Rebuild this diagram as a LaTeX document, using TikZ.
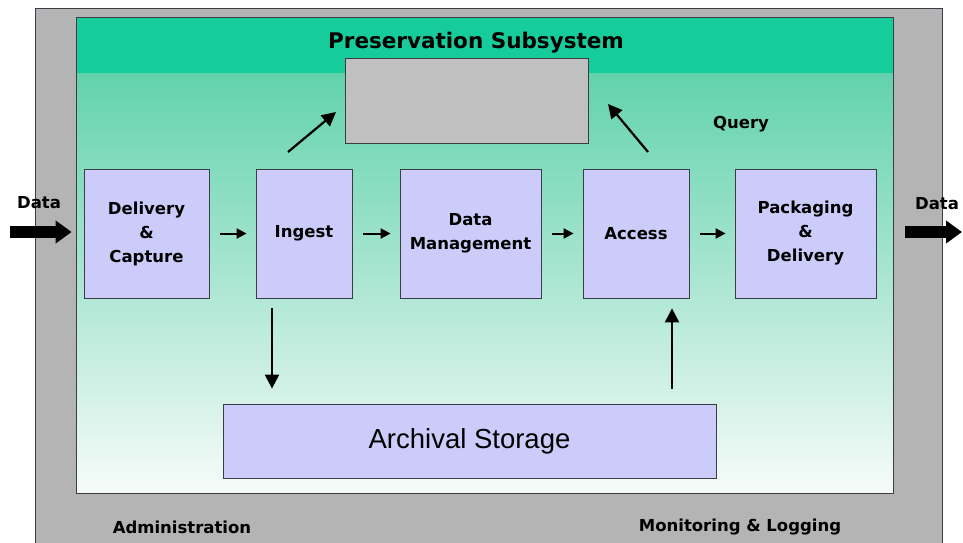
\documentclass[tikz,border=0pt]{standalone}
\usepackage{fontspec}
\setmainfont{DejaVu Sans}
\newfontfamily\arialfont{Liberation Sans}
\usetikzlibrary{arrows.meta}
\definecolor{outergray}{RGB}{180,180,180}
\definecolor{qgray}{RGB}{192,192,192}
\definecolor{edge}{RGB}{60,60,70}
\definecolor{boxblue}{RGB}{204,204,250}
\definecolor{pstop}{RGB}{22,204,154}
\definecolor{psband}{RGB}{98,210,172}
\definecolor{psmid}{RGB}{172,231,210}
\definecolor{psbot}{RGB}{246,251,249}

\begin{document}
\begin{tikzpicture}[x=1pt,y=-1pt,
  box/.style={draw=edge,fill=boxblue,line width=0.8pt,inner sep=0pt,align=center,font=\bfseries\fontsize{16.5}{24}\selectfont},
  flow/.style={-{Triangle[length=10pt,width=10pt]},line width=2pt,shorten <=11pt,shorten >=9pt},
  link/.style={-{Triangle[length=14pt,width=14pt]},line width=2.2pt},
  bigarrow/.style={-{Triangle[length=16pt,width=22pt]},line width=12pt},
  tag/.style={font=\bfseries\fontsize{16.5}{18}\selectfont}]
  \useasboundingbox (0,0) rectangle (963,543);
  \fill[outergray] (35,8) rectangle (942,543);
  \draw[edge,line width=0.8pt] (35,543) -- (35,8) -- (942,8) -- (942,543);
  \fill[pstop] (76,17) rectangle (893,73);
  \shade[top color=psband,middle color=psmid,bottom color=psbot] (76,73) rectangle (893,493);
  \draw[edge,line width=0.8pt] (76,17) rectangle (893,493);
  \node[font=\bfseries\fontsize{21.5}{24}\selectfont] (title) at (476,43) {Preservation Subsystem};
  \node[draw=edge,fill=qgray,line width=0.8pt,minimum width=243pt,minimum height=85pt] (qbox) at (466.5,100.5) {};
  \node[tag] (query) at (741,124) {Query};
  \node[box,minimum width=125pt,minimum height=129pt] (dc) at (146.5,233.5) {Delivery\\\&\\Capture};
  \node[box,minimum width=96pt,minimum height=129pt] (ing) at (304,233.5) {Ingest};
  \node[box,minimum width=141pt,minimum height=129pt] (dm) at (470.5,233.5) {Data\\Management};
  \node[box,minimum width=106pt,minimum height=129pt] (acc) at (636,233.5) {Access};
  \node[box,minimum width=141pt,minimum height=129pt] (pd) at (805.5,233.5) {Packaging\\\&\\Delivery};
  \node[box,minimum width=493pt,minimum height=74pt,font=\arialfont\fontsize{27.5}{30}\selectfont] (store) at (469.5,441) {Archival Storage};
  \draw[flow] (dc) -- (ing);
  \draw[flow] (ing) -- (dm);
  \draw[flow] (dm) -- (acc);
  \draw[flow] (acc) -- (pd);
  \coordinate (ingup) at (288,152); \coordinate (qin) at (336,112);
  \coordinate (accup) at (648,152); \coordinate (qout) at (608,104);
  \draw[link] (ingup) -- (qin);
  \draw[link] (accup) -- (qout);
  \draw[link,shorten <=10pt,shorten >=15pt] ([xshift=-32pt]ing.south) -- ([xshift=-32pt]ing.south |- store.north);
  \draw[link,shorten <=15pt,shorten >=10pt] ([xshift=36pt]acc.south |- store.north) -- ([xshift=36pt]acc.south);
  \node[tag] (datain) at (39,203) {Data};
  \node[tag] (dataout) at (937,204) {Data};
  \coordinate (srcin) at (10,232); \coordinate (sinkout) at (962,232);
  \draw[bigarrow,shorten >=12pt] (srcin) -- (srcin -| dc.west);
  \draw[bigarrow,shorten <=29pt] (sinkout -| pd.east) -- (sinkout);
  \node[tag] (admin) at (182,527) {Administration};
  \node[tag] (monitor) at (740,527) {Monitoring \& Logging};
\end{tikzpicture}
\end{document}
